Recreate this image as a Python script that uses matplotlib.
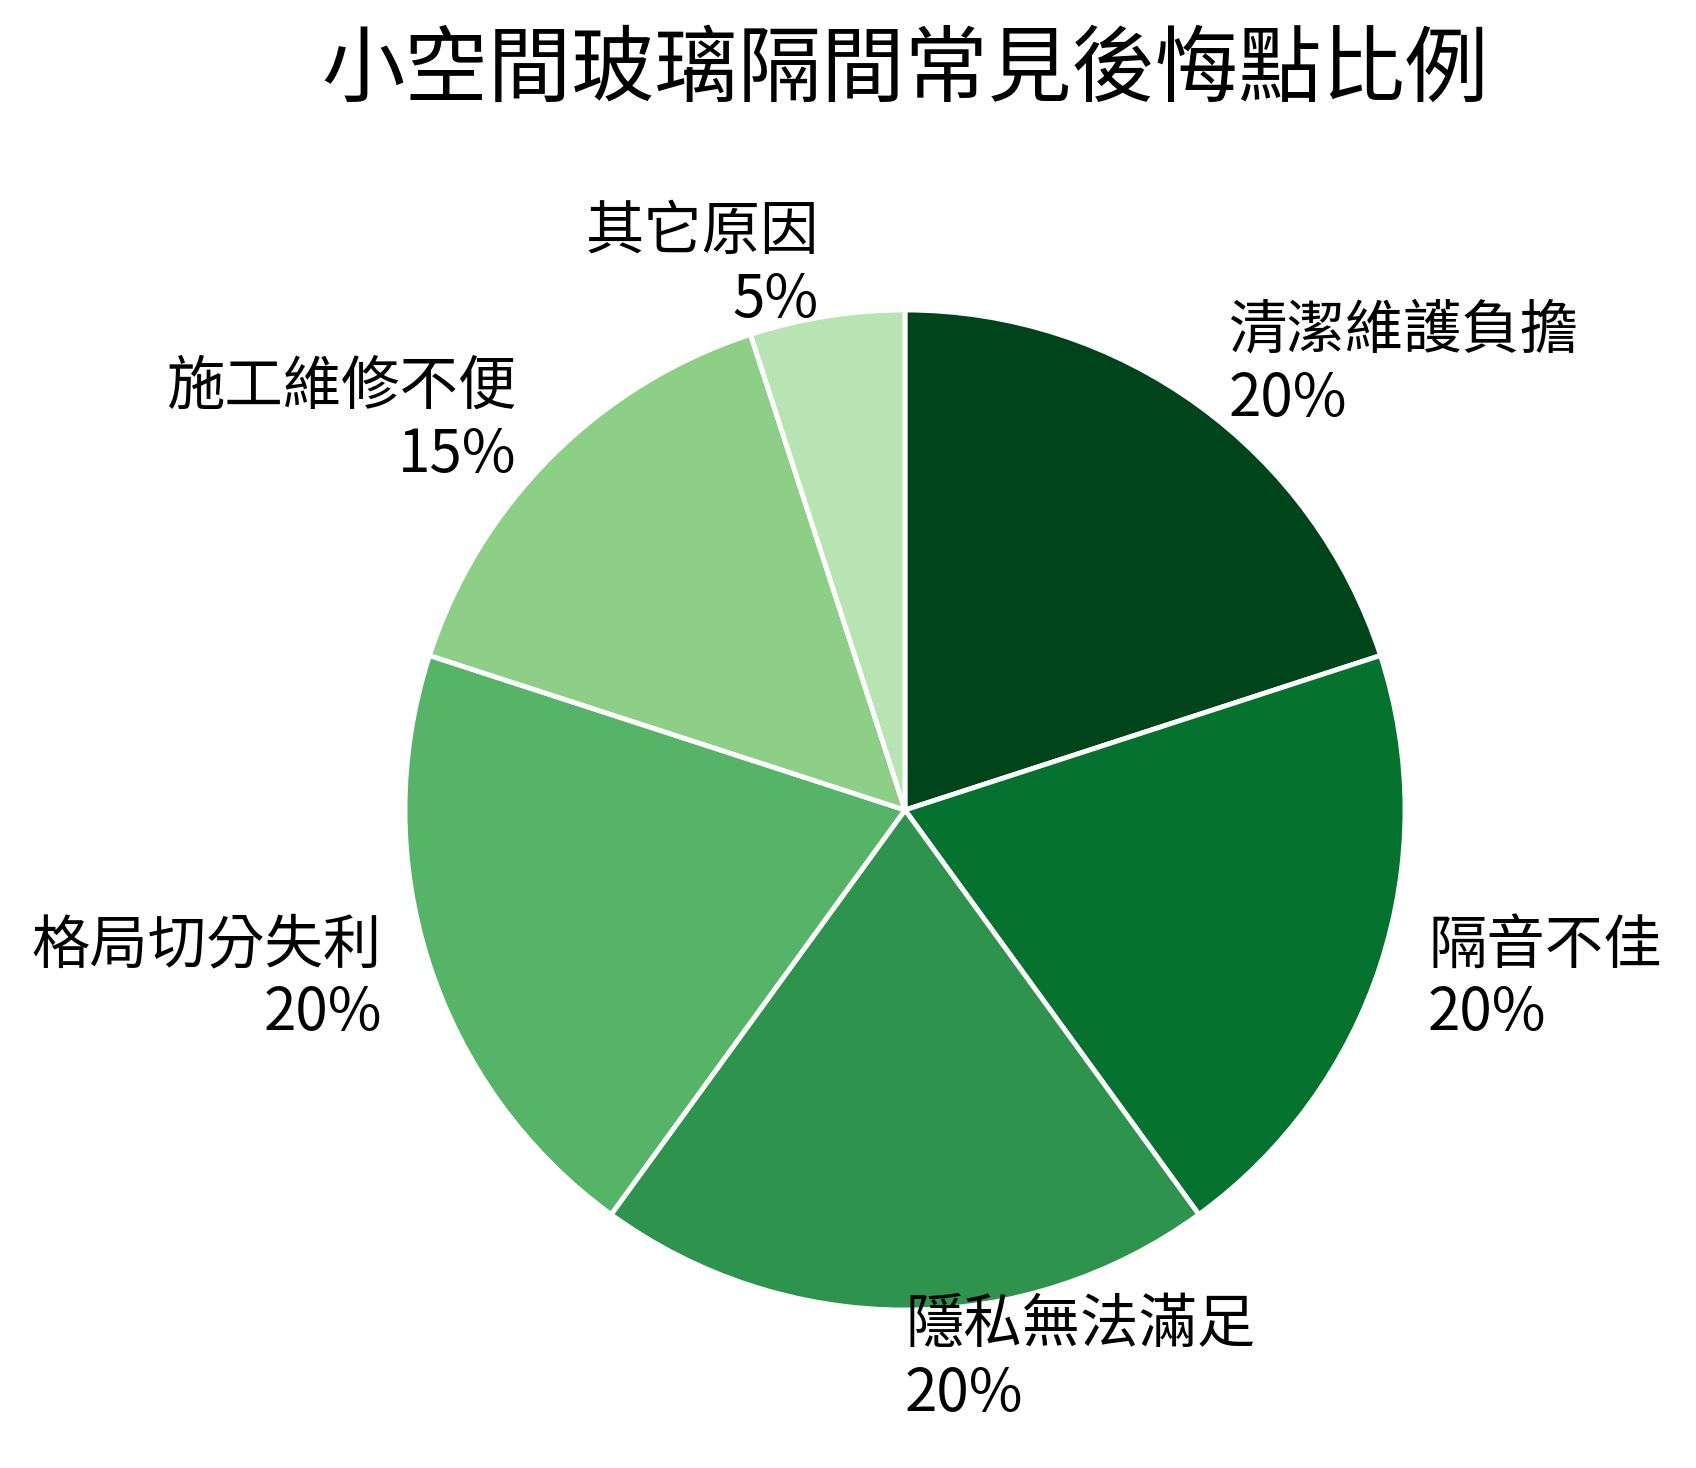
"""Pie chart: common regrets with glass partitions in small spaces."""

import matplotlib

matplotlib.use("Agg")
import matplotlib.pyplot as plt

plt.rcParams["font.family"] = ["Noto Sans CJK TC", "DejaVu Sans"]

TITLE = "小空間玻璃隔間常見後悔點比例"
categories = ["清潔維護負擔", "隔音不佳", "隱私無法滿足", "格局切分失利", "施工維修不便", "其它原因"]
shares = [20, 20, 20, 20, 15, 5]
colors = ["#00441b", "#067230", "#2d934d", "#56b468", "#8ecf87", "#b8e3b2"]

W, H = 1696, 1468
CX, CY, R = 905, 810, 500

fig = plt.figure(figsize=(W / 100, H / 100), dpi=100)
ax = fig.add_axes([(CX - R) / W, (H - CY - R) / H, 2 * R / W, 2 * R / H])

labels = [f"{name}\n{value}%" for name, value in zip(categories, shares)]
wedges, texts = ax.pie(
    shares,
    labels=labels,
    colors=colors,
    startangle=90,
    counterclock=False,
    labeldistance=1.1,
    wedgeprops={"edgecolor": "white", "linewidth": 3.5},
    textprops={"fontsize": 42, "color": "black", "linespacing": 1.15},
)
# labels sitting straight below the centre should hang to the right
for text in texts:
    x, _ = text.get_position()
    text.set_horizontalalignment("left" if round(x, 6) >= 0 else "right")

ax.set_xlim(-1, 1)
ax.set_ylim(-1, 1)
ax.set_aspect("equal")
ax.axis("off")

fig.text(CX / W, 1 - 71 / H, TITLE, ha="center", va="center", fontsize=60)

fig.savefig("out.png", dpi=100, facecolor="white")
